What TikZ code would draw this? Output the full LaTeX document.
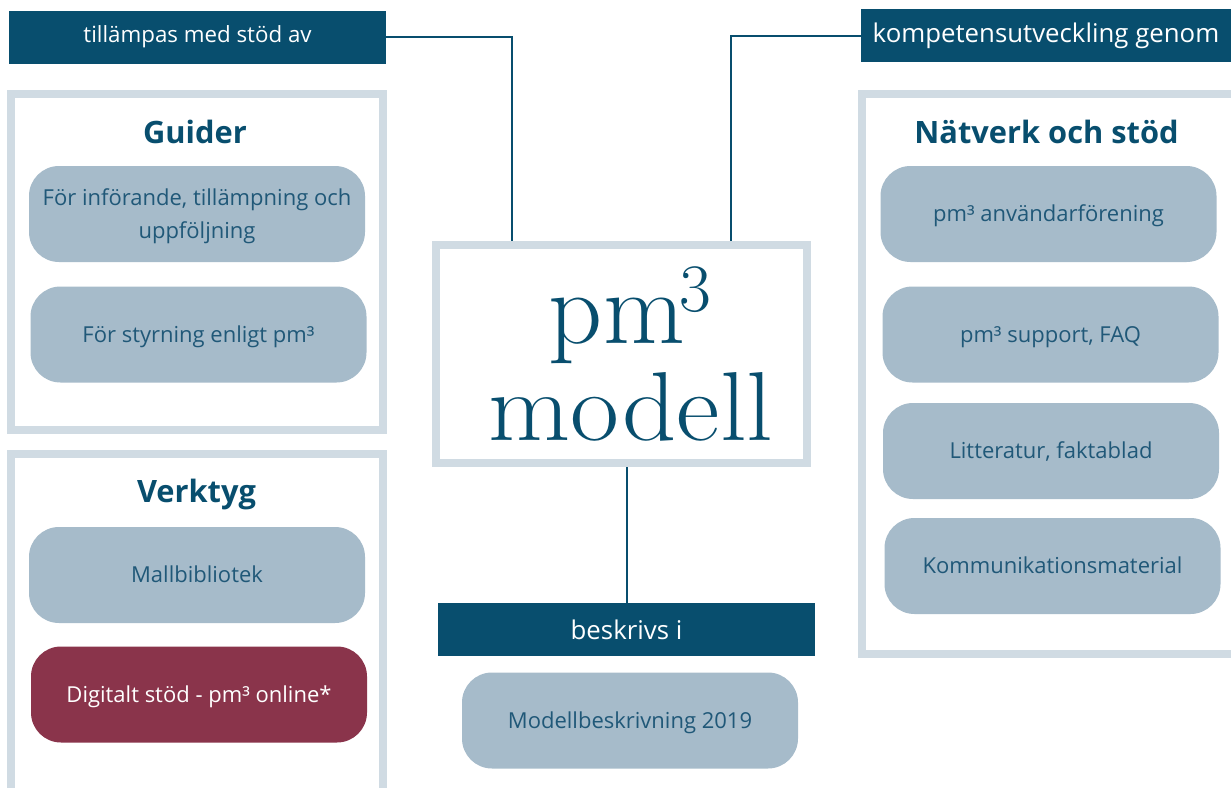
\documentclass[tikz,border=0pt]{standalone}
\usepackage{fontspec}
\setsansfont{Open Sans}
\usepackage{graphicx}
\usepackage{tikz}

\definecolor{navy}{RGB}{8,78,110}
\definecolor{framegray}{RGB}{208,219,227}
\definecolor{boxblue}{RGB}{166,187,202}
\definecolor{boxtext}{RGB}{32,88,120}
\definecolor{maroon}{RGB}{138,52,75}

\tikzset{
  banner/.style={fill=navy,text=white,minimum width=377pt,minimum height=53pt,
    font=\sffamily\fontsize{25.8}{30}\selectfont},
  frame/.style={draw=framegray,line width=8pt,fill=white},
  item/.style={fill=boxblue,text=boxtext,rounded corners=30pt,minimum width=336pt,
    minimum height=96pt,text height=15.8pt,text depth=0pt,align=center,
    font=\sffamily\fontsize{22}{33}\selectfont},
  title/.style={anchor=base,text=navy,font=\sffamily\bfseries\fontsize{30.8}{36}\selectfont},
  bigname/.style={anchor=base,inner sep=0pt,text=navy,font=\fontsize{98}{98}\selectfont},
  link/.style={navy,line width=2pt}
}

\begin{document}
\begin{tikzpicture}[x=1pt,y=-1pt]
\useasboundingbox (0,0) rectangle (1231,787);
\clip (0,0) rectangle (1231,787);
% frames
\node[frame,minimum width=372pt,minimum height=336pt] (guider) at (197,262) {};
\node[frame,minimum width=372pt,minimum height=366pt] (verktyg) at (197,637) {};
\node[frame,minimum width=378pt,minimum height=560pt] (natverk) at (1051,374) {};
\node[frame,minimum width=371pt,minimum height=218pt] (core) at (621.5,354) {};
% model name
\node[bigname] (pm) at (630,343) {\scalebox{1.08}[1.06]{pm\kern-5pt\raisebox{30pt}{\fontsize{64}{64}\selectfont 3}}};
\node[bigname] (modell) at (631,440) {\scalebox{1.085}[1]{modell}};
% titles
\node[title] (guidertitle) at (195,143) {Guider};
\node[title] (verktygtitle) at (196.5,502) {Verktyg};
\node[title] (natverktitle) at (1046.5,143) {Nätverk och stöd};
% items
\node[item,text height=,text depth=0pt] (g1) at (197,214) {För införande, tillämpning och\\uppföljning};
\node[item] (g2) at (198.5,334.5) {För styrning enligt pm³};
\node[item] (v1) at (197,575) {Mallbibliotek};
\node[item,fill=maroon,text=white] (v2) at (199,694.5) {Digitalt stöd - pm³ online*};
\node[item] (n1) at (1048.5,214) {pm³ användarförening};
\node[item] (n2) at (1050.5,334.5) {pm³ support, FAQ};
\node[item] (n3) at (1051,451) {Litteratur, faktablad};
\node[item] (n4) at (1052.5,566) {Kommunikationsmaterial};
\node[item] (m1) at (630,720.5) {Modellbeskrivning 2019};
% banners
\node[banner,font=\sffamily\fontsize{22.3}{30}\selectfont] (tillampas) at (197.5,37) {tillämpas med stöd av};
\node[banner,minimum width=370pt] (kompetens) at (1046,35.5) {kompetensutveckling genom};
\node[banner] (beskrivs) at (626.5,629.5) {beskrivs i};
% connectors
\coordinate (coreleft) at (512,241);
\coordinate (coreright) at (731,241);
\draw[link] (tillampas.east) -| (coreleft);
\draw[link] (kompetens.west) -| (coreright);
\draw[link] (core.south -| beskrivs.north) -- (beskrivs.north);
\end{tikzpicture}
\end{document}
